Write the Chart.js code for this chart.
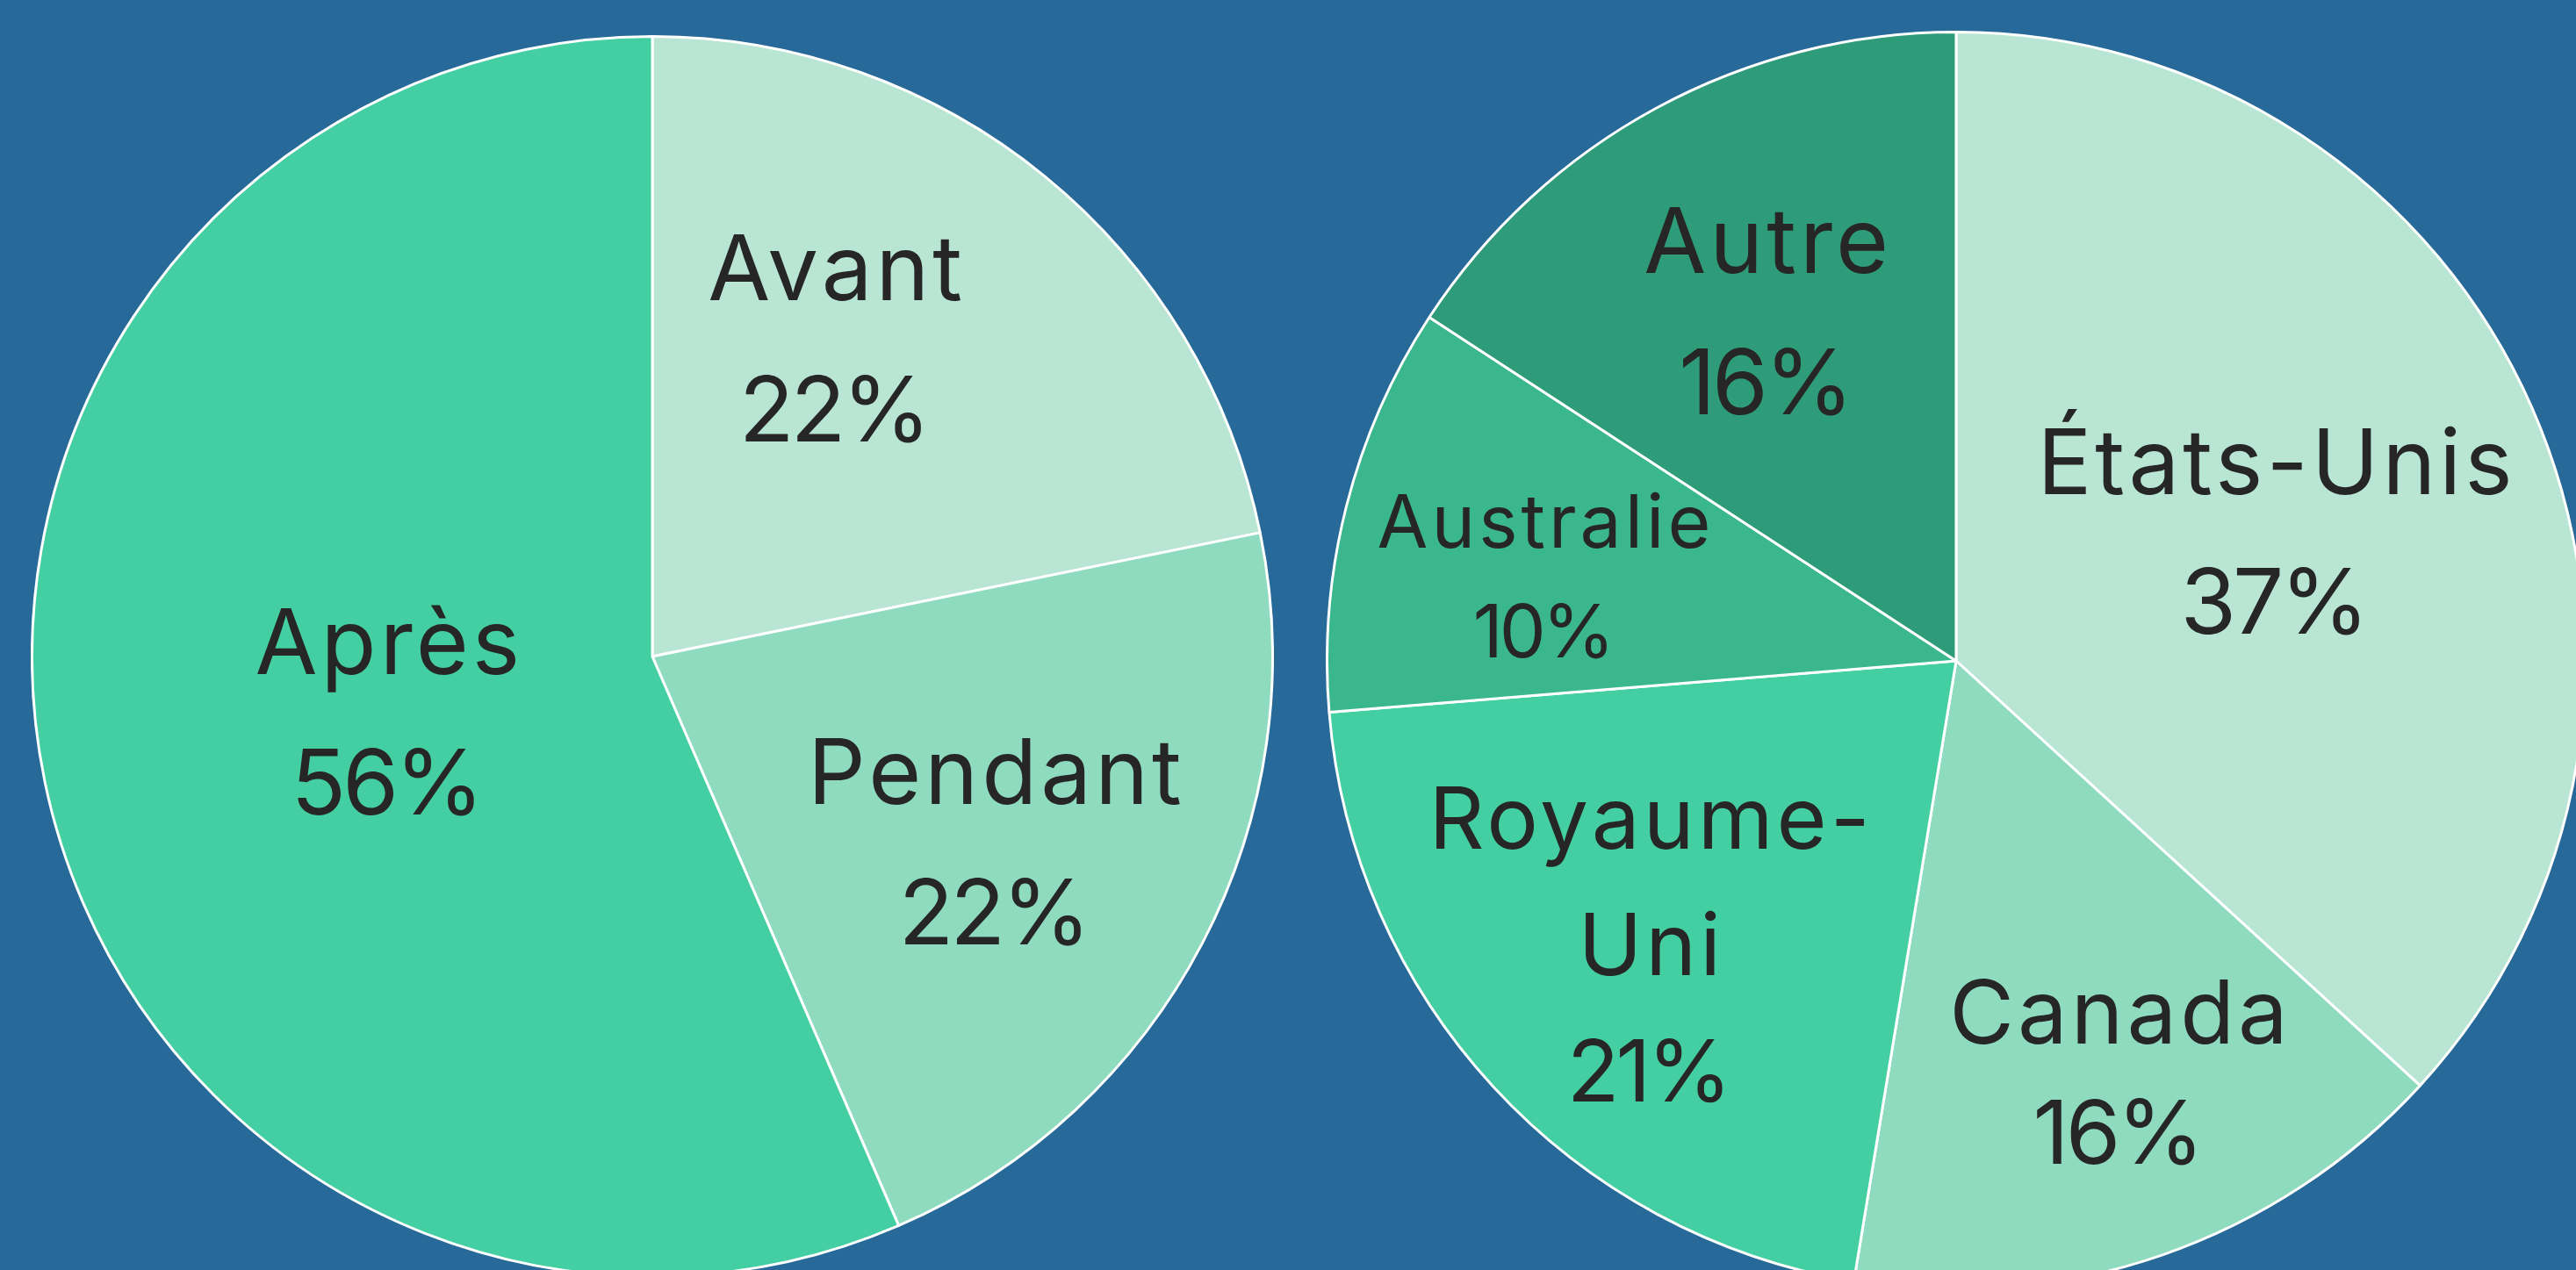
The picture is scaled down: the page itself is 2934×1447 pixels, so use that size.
<!DOCTYPE html>
<html>
<head>
<meta charset="utf-8">
<script src="https://cdn.jsdelivr.net/npm/chart.js@4.4.1/dist/chart.umd.min.js"></script>
<style>
  html, body { margin: 0; padding: 0; width: 2934px; height: 1447px; overflow: hidden; background: #276a99; }
  .pie { position: absolute; }
  #left { left: 35px; top: 40px; width: 1416px; height: 1416px; }
  #right { left: 1510px; top: 35px; width: 1436px; height: 1436px; }
</style>
</head>
<body>
<div class="pie" id="left"><canvas id="periodChart" width="1416" height="1416"></canvas></div>
<div class="pie" id="right"><canvas id="countryChart" width="1436" height="1436"></canvas></div>
<script>
// left pie: when
const periodLabels = ["Avant", "Pendant", "Après"];
const periodValues = [21.8, 21.7, 56.5];
const periodPct = ["22%", "22%", "56%"];

// right pie: where
const countryLabels = ["États-Unis", "Canada", ["Royaume-", "Uni"], "Australie", "Autre"];
const countryValues = [36.8, 15.8, 21.1, 10.5, 15.8];
const countryPct = ["37%", "16%", "21%", "10%", "16%"];

const periodColors = ["#b9e6d4", "#8fdbbf", "#43cfa2"];
const countryColors = ["#b9e6d4", "#8fdbbf", "#43cfa2", "#3ab78d", "#2e9c79"];

// draws "name / pct" inside each slice
const sliceLabels = {
  id: "sliceLabels",
  afterDatasetsDraw(chart, args, opts) {
    const ctx = chart.ctx;
    const meta = chart.getDatasetMeta(0);
    meta.data.forEach((arc, i) => {
      const p = arc.getProps(["x", "y", "startAngle", "endAngle", "outerRadius"], true);
      const mid = (p.startAngle + p.endAngle) / 2 + (opts.shift[i] || 0) * Math.PI / 180;
      const r = p.outerRadius * opts.dist[i];
      const cx = p.x + Math.cos(mid) * r;
      const cy = p.y + Math.sin(mid) * r;
      let name = chart.data.labels[i];
      const names = Array.isArray(name) ? name : [name];
      const lines = names.concat(opts.pct[i]);
      const size = opts.size[i], lh = opts.lineHeight[i];
      const capH = size * 0.727;
      const total = (lines.length - 1) * lh + capH;
      const firstBase = cy - total / 2 + capH;
      ctx.save();
      ctx.font = "400 " + size + "px Inter";
      ctx.fillStyle = "#262626";
      ctx.textAlign = "center";
      ctx.textBaseline = "alphabetic";
      lines.forEach((t, k) => {
        const sp = k < names.length ? opts.nameSpacing : opts.pctSpacing;
        ctx.letterSpacing = sp + "px";
        ctx.fillText(t, cx + sp / 2, firstBase + k * lh);
      });
      ctx.restore();
    });
  }
};

function makePie(id, labels, values, colors, labelOpts) {
  return new Chart(document.getElementById(id), {
    type: "pie",
    data: {
      labels: labels,
      datasets: [{
        data: values,
        backgroundColor: colors,
        borderColor: "#ffffff",
        borderWidth: 3
      }]
    },
    options: {
      responsive: false,
      animation: false,
      devicePixelRatio: 1,
      layout: { padding: 0 },
      plugins: {
        legend: { display: false },
        tooltip: { enabled: false },
        sliceLabels: labelOpts
      }
    },
    plugins: [sliceLabels]
  });
}

makePie("periodChart", periodLabels, periodValues, periodColors, {
  pct: periodPct,
  dist: [0.592, 0.627, 0.436],
  shift: [-9.4, 0.8, 0],
  size: [103, 103, 103],
  lineHeight: [161, 160, 160],
  nameSpacing: 4,
  pctSpacing: -4
});

makePie("countryChart", countryLabels, countryValues, countryColors, {
  pct: countryPct,
  dist: [0.547, 0.702, 0.663, 0.669, 0.634],
  shift: [1.6, -2.5, 0, -2.6, 0],
  size: [103, 101, 98, 84, 103],
  lineHeight: [159, 137, 144, 125, 161],
  nameSpacing: 4,
  pctSpacing: -4
});
</script>
</body>
</html>
